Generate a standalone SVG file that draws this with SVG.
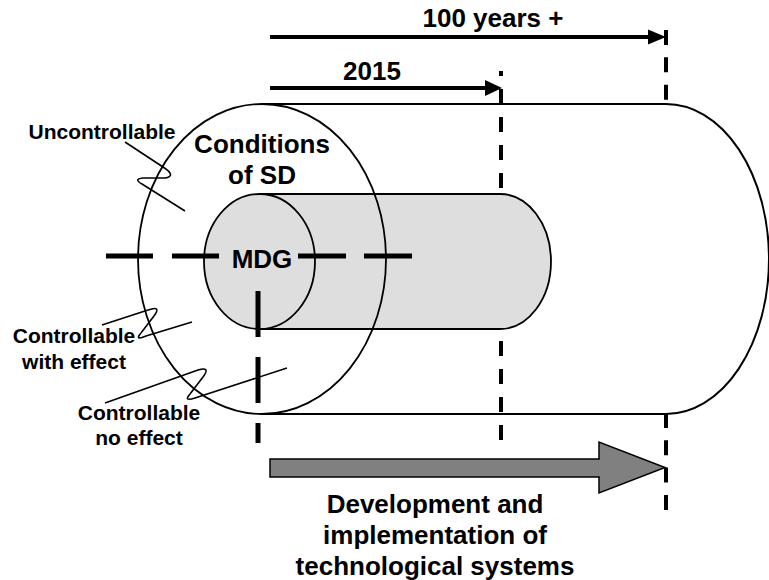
<svg xmlns="http://www.w3.org/2000/svg" width="769" height="580" viewBox="0 0 769 580">
<style>
text{font-family:"Liberation Sans",Arial,sans-serif;font-weight:bold;fill:#000}
.big{font-size:26px;text-anchor:middle}
.lbl{font-size:21px;text-anchor:middle}
.thin{fill:none;stroke:#000;stroke-width:1.6}
.dash4{fill:none;stroke:#000;stroke-width:4}
.bar{fill:none;stroke:#000;stroke-width:5}
</style>
<rect width="769" height="580" fill="#fff"/>
<g id="timeline-far">
<line class="dash4" x1="666" y1="30" x2="666" y2="510" stroke-dasharray="15 12.35"/>
</g>
<g id="outer-cylinder">
<path d="M262,104 L666,104 A103,155 0 0 1 666,414 L262,414" fill="#fff" stroke="#000" stroke-width="2"/>
</g>
<g id="timeline-2015">
<line class="dash4" x1="501" y1="71" x2="501" y2="442" stroke-dasharray="15 13" stroke-dashoffset="10"/>
</g>
<g id="mdg-cylinder">
<path d="M259.5,194 L500,194 A51,67.5 0 0 1 500,329 L259.5,329 Z" fill="#dedede" stroke="#000" stroke-width="1.8"/>
<ellipse cx="259.5" cy="261.5" rx="55.5" ry="67.5" fill="#dedede" stroke="#000" stroke-width="1.8"/>
<text class="big" x="262" y="268">MDG</text>
</g>
<g id="conditions-sd">
<ellipse cx="262" cy="259" rx="124" ry="155" fill="none" stroke="#000" stroke-width="1.8"/>
<text class="big" x="262" y="153">Conditions</text>
<text class="big" x="262" y="184">of SD</text>
</g>
<g id="connectors">
<line class="bar" x1="106" y1="256" x2="153" y2="256"/>
<line class="bar" x1="172" y1="256" x2="219" y2="256"/>
<line class="bar" x1="298" y1="256" x2="346" y2="256"/>
<line class="bar" x1="364" y1="256" x2="412" y2="256"/>
<line class="bar" x1="258" y1="291" x2="258" y2="337"/>
<line class="bar" x1="258" y1="357" x2="258" y2="403"/>
<line class="bar" x1="258" y1="423" x2="258" y2="443"/>
<path class="thin" d="M125,142 L163,167 Q177,176 165,178 L143,178 Q133,179 142,184 L185,211"/>
<path class="thin" d="M102,325 L148,310 Q162,305 154,316 L141,333 Q134,341 146,336 L192,322"/>
<path class="thin" d="M105,403 L198,370 Q211,366 203,377 L190,394 Q183,402 195,398 L287,368"/>
<line x1="270" y1="37" x2="650" y2="37" stroke="#000" stroke-width="4"/>
<polygon points="648,29.5 666,37 648,44.5" fill="#000"/>
<line x1="270" y1="88" x2="487" y2="88" stroke="#000" stroke-width="4"/>
<polygon points="485,80 502,88 485,96" fill="#000"/>
<polygon points="270,459 599,459 599,442 665,467.5 599,493 599,477 270,477" fill="#808080" stroke="#000" stroke-width="1.5"/>
</g>
<g id="labels">
<text class="big" x="493" y="27">100 years +</text>
<text class="big" x="372" y="80">2015</text>
<text class="lbl" x="102" y="139">Uncontrollable</text>
<text class="lbl" x="74" y="343">Controllable</text>
<text class="lbl" x="74" y="369">with effect</text>
<text class="lbl" x="139" y="420">Controllable</text>
<text class="lbl" x="139" y="445">no effect</text>
<text class="big" x="435" y="513">Development and</text>
<text class="big" x="435" y="544">implementation of</text>
<text class="big" x="435" y="575">technological systems</text>
</g>
</svg>
